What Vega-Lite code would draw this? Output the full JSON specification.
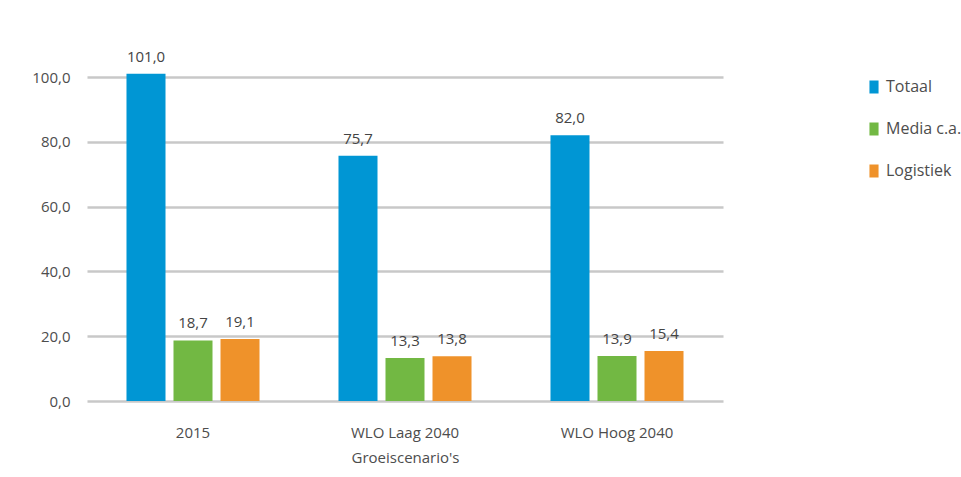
{
  "$schema": "https://vega.github.io/schema/vega-lite/v6.json",
  "autosize": "none",
  "width": 636,
  "height": 324,
  "padding": {"left": 87, "top": 77, "right": 238, "bottom": 76},
  "background": "white",
  "config": {
    "locale": {"number": {"decimal": ",", "thousands": ".", "grouping": [3], "currency": ["€", ""]}},
    "view": {"stroke": null},
    "font": "Open Sans"
  },
  "data": {
    "values": [
      {"scenario": "2015", "serie": "Totaal", "waarde": 101.0},
      {"scenario": "2015", "serie": "Media c.a.", "waarde": 18.7},
      {"scenario": "2015", "serie": "Logistiek", "waarde": 19.1},
      {"scenario": "WLO Laag 2040", "serie": "Totaal", "waarde": 75.7},
      {"scenario": "WLO Laag 2040", "serie": "Media c.a.", "waarde": 13.3},
      {"scenario": "WLO Laag 2040", "serie": "Logistiek", "waarde": 13.8},
      {"scenario": "WLO Hoog 2040", "serie": "Totaal", "waarde": 82.0},
      {"scenario": "WLO Hoog 2040", "serie": "Media c.a.", "waarde": 13.9},
      {"scenario": "WLO Hoog 2040", "serie": "Logistiek", "waarde": 15.4}
    ]
  },
  "encoding": {
    "x": {
      "field": "scenario", "type": "nominal",
      "sort": ["2015", "WLO Laag 2040", "WLO Hoog 2040"],
      "scale": {"paddingInner": 0, "paddingOuter": 0},
      "axis": {
        "title": "Groeiscenario's", "labelAngle": 0, "domain": false, "ticks": false,
        "labelFontSize": 15, "labelColor": "#4d4d4d", "labelPadding": 24,
        "titleFontSize": 15, "titleFontWeight": "normal", "titleColor": "#4d4d4d", "titlePadding": 10
      }
    },
    "xOffset": {
      "field": "serie", "type": "nominal",
      "sort": ["Totaal", "Media c.a.", "Logistiek"],
      "scale": {"paddingInner": 0.17, "paddingOuter": 0.84}
    },
    "y": {
      "field": "waarde", "type": "quantitative",
      "scale": {"domain": [0, 100], "nice": false},
      "axis": {
        "title": null, "values": [0, 20, 40, 60, 80, 100], "format": ".1f",
        "domain": false, "ticks": false, "labelPadding": 17,
        "labelFontSize": 15, "labelColor": "#4d4d4d",
        "grid": true, "gridColor": "#c8c8c8", "gridWidth": 2.5
      }
    }
  },
  "layer": [
    {
      "mark": {"type": "bar", "clip": false},
      "encoding": {
        "color": {
          "field": "serie", "type": "nominal",
          "sort": ["Totaal", "Media c.a.", "Logistiek"],
          "scale": {"domain": ["Totaal", "Media c.a.", "Logistiek"], "range": ["#0096d4", "#72b843", "#ef922a"]},
          "legend": {
            "title": null, "orient": "none", "legendX": 779, "legendY": 2,
            "symbolType": "M-0.7,-1H0.7V1H-0.7Z", "symbolSize": 169,
            "symbolStrokeWidth": 0, "labelFontSize": 16, "labelColor": "#4d4d4d",
            "labelOffset": 4, "rowPadding": 26
          }
        }
      }
    },
    {
      "mark": {"type": "text", "baseline": "bottom", "dy": -9, "fontSize": 15, "color": "#444444", "clip": false},
      "encoding": {
        "text": {"field": "waarde", "type": "quantitative", "format": ".1f"}
      }
    }
  ]
}
